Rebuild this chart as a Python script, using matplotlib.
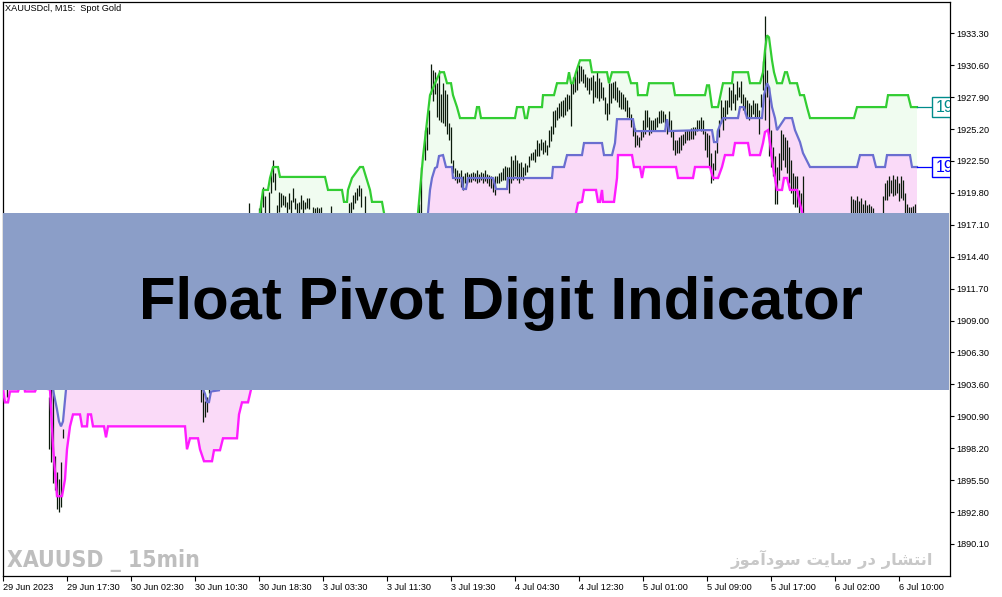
import matplotlib
matplotlib.use('Agg')
import matplotlib.pyplot as plt
from matplotlib.patches import Rectangle

plt.rcParams['font.family'] = ['Liberation Sans', 'DejaVu Sans']

# ---------------- data ----------------
title_text = "XAUUSDcl, M15:  Spot Gold"
banner_text = "Float Pivot Digit Indicator"
watermark_left = "XAUUSD _ 15min"
watermark_right = "انتشار در سایت سودآموز"

x_tick_pos = [0, 32, 64, 96, 128, 160, 192, 224, 256, 288, 320, 352, 384, 416, 448]
x_tick_labels = ["29 Jun 2023", "29 Jun 17:30", "30 Jun 02:30", "30 Jun 10:30",
                 "30 Jun 18:30", "3 Jul 03:30", "3 Jul 11:30", "3 Jul 19:30",
                 "4 Jul 04:30", "4 Jul 12:30", "5 Jul 01:00", "5 Jul 09:00",
                 "5 Jul 17:00", "6 Jul 02:00", "6 Jul 10:00"]
y_ticks = [1890.10, 1892.80, 1895.50, 1898.20, 1900.90, 1903.60, 1906.30, 1909.00,
           1911.70, 1914.40, 1917.10, 1919.80, 1922.50, 1925.20, 1927.90, 1930.60, 1933.30]

# upper level (green)
upper_x = [0, 127, 128.5, 130, 132.5, 133.5, 135, 137.5, 138.5, 161, 162.5, 169.5, 170.5, 172,
           172.5, 174.5, 178.5, 180, 181.5, 183.5, 184.5, 189.5, 190.5, 195, 205, 207.5, 210,
           213.5, 216, 218.5, 220.5, 222, 224, 225, 227, 228.5, 236, 237, 238, 239, 256, 257,
           260, 261, 262, 263, 269.5, 270, 275.5, 277, 282, 283, 284, 285, 286.5, 288.5, 293.5,
           294.5, 302, 303, 304.5, 312.5, 314, 317, 317.5, 322, 323, 335, 336, 351, 352, 353,
           354.5, 357.5, 360, 364.5, 365, 372.5, 373.5, 378.5, 380, 381, 382, 383, 384.5, 385.5,
           387, 389.5, 391, 392, 393.5, 397, 398.5, 400.5, 402, 403.5, 425.5, 427, 441.5, 442.5,
           452.5, 454, 457]
upper_y = [1913.0, 1913.0, 1918.1, 1920.05, 1920.05, 1921.06, 1921.99, 1921.99, 1921.15, 1921.15,
           1920.05, 1920.05, 1919.04, 1919.04, 1920.05, 1921.06, 1921.99, 1921.99, 1921.15,
           1920.05, 1919.04, 1919.04, 1918.1, 1914.0, 1914.0, 1918.1, 1922.85, 1928.07, 1929.08,
           1930.01, 1930.01, 1929.08, 1929.08, 1928.07, 1927.06, 1926.13, 1926.13, 1927.06,
           1927.06, 1926.13, 1926.13, 1927.06, 1927.06, 1926.13, 1926.13, 1927.06, 1927.06,
           1928.07, 1928.07, 1929.08, 1929.08, 1930.01, 1929.08, 1929.08, 1930.01, 1931.02,
           1931.02, 1930.01, 1930.01, 1929.08, 1930.01, 1930.01, 1929.08, 1929.08, 1928.07,
           1928.07, 1929.08, 1929.08, 1928.07, 1928.07, 1928.9, 1928.9, 1927.06, 1927.06,
           1929.08, 1929.08, 1930.01, 1930.01, 1929.08, 1929.08, 1930.01, 1931.87, 1933.13,
           1932.96, 1931.02, 1930.01, 1929.08, 1929.08, 1930.01, 1930.01, 1929.08, 1929.08,
           1928.07, 1928.07, 1927.06, 1926.13, 1926.13, 1927.06, 1927.06, 1928.07, 1928.07,
           1927.06, 1927.06]

# pivot level (blue)
pivot_x = [0, 24, 25, 27, 28, 29, 30, 31.5, 33, 98, 100, 101, 102, 103, 104, 108, 111, 150, 205,
           212.5, 213.5, 214.5, 216, 217, 218, 220, 221.5, 224.5, 225, 229.5, 230, 231.5, 232.5,
           245, 246.5, 252, 252.5, 274.5, 275, 280.5, 282, 289.5, 290.5, 299.5, 300.5, 304.5, 306,
           307, 315, 316, 331, 332, 333, 348.5, 354.5, 355.5, 357, 357.5, 360, 367.5, 368.5,
           370.5, 372, 379.5, 380.5, 382, 383, 384.5, 386, 387, 391, 394.5, 396, 398.5, 400,
           403.5, 427, 428.5, 435, 436.5, 441, 442, 453.5, 454.5, 457]
pivot_y = [1906.0, 1906.0, 1903.17, 1901.48, 1900.47, 1900.05, 1900.47, 1903.17, 1906.0, 1906.0,
           1903.2, 1902.8, 1902.1, 1902.1, 1903.0, 1903.1, 1906.0, 1910.0, 1912.0, 1918.1,
           1920.05, 1921.06, 1921.9, 1921.99, 1922.92, 1923.0, 1921.99, 1921.99, 1921.06,
           1921.06, 1920.13, 1920.13, 1921.06, 1921.06, 1920.13, 1920.13, 1921.06, 1921.06,
           1921.99, 1921.99, 1923.0, 1923.0, 1924.02, 1924.02, 1923.0, 1923.0, 1924.02, 1926.04,
           1926.04, 1925.03, 1925.03, 1926.04, 1925.03, 1925.11, 1925.11, 1924.10, 1924.10,
           1925.11, 1926.13, 1926.13, 1927.06, 1927.06, 1926.13, 1926.13, 1928.07, 1929.08,
           1928.74, 1927.06, 1926.13, 1925.11, 1926.13, 1926.13, 1925.11, 1924.10, 1923.17,
           1921.99, 1921.99, 1923.0, 1923.0, 1921.99, 1921.99, 1923.0, 1923.0, 1921.99, 1921.99]

# lower level (magenta)
lower_x = [0, 1, 2.5, 3.5, 7.5, 8.5, 10.5, 11, 16, 17, 23.5, 25, 27, 29.5, 31, 32, 33.5, 35, 38.5,
           39.5, 42, 42.5, 44, 45, 50.5, 51.5, 52.5, 91, 92, 93.5, 97.5, 98.5, 100.5, 104.5,
           105.5, 108.5, 110, 117, 118, 119.5, 122.5, 124, 128, 285, 286.5, 287.5, 289.5, 290.5,
           296.5, 297.5, 298.5, 299.5, 300, 305.5, 307, 307.5, 314.5, 315.5, 318.5, 319.5, 320.5,
           336.5, 337.5, 345, 346, 353.5, 355, 357.5, 359.5, 361, 365, 366, 372.5, 373.5, 378.5,
           380, 381, 382.5, 383.5, 385, 386, 387, 389.5, 390.5, 392, 393.5, 397, 398, 399.5, 402,
           457]
lower_y = [1903.17, 1902.08, 1902.08, 1903.0, 1903.0, 1903.5, 1903.5, 1903.0, 1903.0, 1903.4,
           1903.17, 1898.36, 1894.14, 1894.14, 1895.58, 1898.11, 1900.05, 1901.06, 1901.06,
           1900.05, 1900.05, 1901.06, 1901.06, 1900.05, 1900.05, 1899.12, 1900.05, 1900.05,
           1898.11, 1899.04, 1899.04, 1898.11, 1897.10, 1897.10, 1898.03, 1898.03, 1899.04,
           1899.04, 1901.06, 1902.08, 1902.08, 1903.17, 1907.0, 1912.0, 1918.1, 1918.95, 1919.04,
           1920.05, 1920.05, 1919.04, 1919.04, 1920.05, 1919.04, 1919.04, 1921.06, 1923.0,
           1923.0, 1921.99, 1921.99, 1921.06, 1921.99, 1921.99, 1921.06, 1921.06, 1921.99,
           1921.99, 1921.06, 1921.06, 1921.99, 1923.0, 1923.0, 1924.02, 1924.02, 1923.0, 1923.0,
           1924.02, 1924.95, 1925.11, 1924.02, 1921.99, 1921.06, 1920.05, 1920.05, 1921.06,
           1921.06, 1920.05, 1920.05, 1919.21, 1918.19, 1916.0, 1916.0]

# price bars (bar index, high, low)
bar_index = [2, 23, 24, 25, 26, 27, 28, 29, 30, 99, 100, 101, 102, 103,
             123, 128, 129, 130, 131, 133, 134, 135, 136, 137, 138, 139, 140, 141, 142, 143, 144,
             145, 146, 147, 148, 149, 150, 151, 152, 153, 155, 156, 157, 158, 159, 164, 173, 174,
             175, 176, 177, 178, 179, 181,
             208, 209] + list(range(211, 401)) + \
            [424, 425, 426, 427, 428, 429, 430, 431, 432, 433, 434, 435] + list(range(440, 457))
bar_high = [1905.0, 1902.5, 1904.0, 1904.0, 1897.5, 1896.2, 1895.6, 1897.0, 1899.8,
            1904.0, 1904.0, 1902.2, 1902.5, 1904.0,
            1918.95, 1918.5, 1919.2, 1920.3, 1919.5, 1919.9, 1921.6, 1922.6, 1921.5, 1918.8,
            1919.9, 1919.8, 1919.6, 1919.5, 1919.0, 1919.8, 1919.2, 1920.2, 1919.4, 1918.95,
            1919.0, 1919.6, 1919.2, 1919.0, 1919.4, 1919.4, 1918.6, 1918.5, 1918.6, 1918.5,
            1918.6, 1918.7, 1918.95, 1919.0, 1919.6, 1919.9, 1920.2, 1920.5, 1920.2, 1919.5,
            1918.9, 1922.0,
            1925.1, 1925.4, 1926.8, 1930.7, 1930.2, 1930.0, 1929.1, 1930.2, 1928.2, 1929.1,
            1928.5, 1928.2, 1925.7, 1925.4, 1922.6, 1921.9, 1921.7, 1921.5, 1921.7, 1921.2,
            1921.5, 1921.6, 1921.4, 1921.5, 1921.6, 1921.5, 1921.7, 1921.4, 1921.6, 1921.5,
            1921.7, 1921.4, 1921.3, 1921.2, 1921.0, 1921.2, 1921.2, 1921.5, 1921.6, 1921.9,
            1922.1, 1922.0, 1922.0, 1922.9, 1922.6, 1923.0, 1922.6, 1922.3, 1922.4, 1922.0,
            1922.3, 1922.2, 1922.9, 1923.2, 1923.3, 1923.5, 1924.3, 1924.0, 1924.4, 1924.1,
            1924.3, 1923.85, 1925.1, 1925.5, 1926.7, 1926.8, 1927.1, 1927.4, 1927.6, 1927.65,
            1927.9, 1928.2, 1928.1, 1929.1, 1929.6, 1929.75, 1930.3, 1930.6, 1930.5, 1930.3,
            1929.9, 1929.6, 1929.5, 1929.6, 1929.75, 1929.3, 1930.0, 1929.5, 1929.2, 1928.8,
            1927.9, 1927.4, 1929.1, 1929.1, 1929.2, 1929.3, 1928.8, 1928.5, 1928.3, 1928.2,
            1927.9, 1927.65, 1927.1, 1926.5, 1925.7, 1925.3, 1924.7, 1924.55, 1925.1, 1926.0,
            1926.8, 1926.8, 1926.2, 1926.0, 1926.0, 1926.1, 1926.2, 1926.7, 1926.8, 1926.7,
            1926.5, 1926.0, 1926.7, 1926.0, 1925.0, 1924.3, 1924.3, 1924.55, 1924.7, 1924.8,
            1925.0, 1925.1, 1925.1, 1925.3, 1925.4, 1925.4, 1926.0, 1926.0, 1926.2, 1926.0,
            1925.0, 1924.9, 1924.7, 1923.15, 1922.3, 1923.4, 1925.1, 1926.0, 1927.65, 1927.1,
            1927.65, 1927.65, 1928.8, 1928.5, 1929.1, 1928.2, 1929.3, 1928.8, 1929.3, 1928.2,
            1927.9, 1927.65, 1927.4, 1927.2, 1927.65, 1927.4, 1927.4, 1926.8, 1928.2, 1931.0,
            1934.8, 1930.2, 1928.8, 1925.1, 1923.7, 1922.9, 1922.0, 1923.15, 1925.1, 1924.8,
            1924.55, 1924.3, 1923.7, 1922.6, 1921.5, 1921.2, 1921.2, 1920.05, 1919.8, 1921.2,
            1919.5, 1919.3, 1919.2, 1919.5, 1919.1, 1919.4, 1918.9, 1919.2, 1918.8, 1918.9,
            1918.7, 1918.5,
            1919.5, 1920.6, 1920.9, 1921.2, 1920.9, 1921.3, 1921.0, 1921.2, 1920.6, 1921.2,
            1920.9, 1919.8, 1918.9, 1918.6, 1918.6, 1918.7, 1918.9]
bar_low = [1902.5, 1898.1, 1897.0, 1895.3, 1894.7, 1893.05, 1892.8, 1893.2, 1899.1,
           1902.1, 1900.4, 1900.8, 1901.3, 1902.9,
           1916.0, 1916.0, 1916.0, 1918.6, 1916.0, 1916.0, 1919.8, 1920.7, 1920.05, 1916.0,
           1918.2, 1918.6, 1918.8, 1918.6, 1916.0, 1918.4, 1916.0, 1919.0, 1918.4, 1916.0,
           1916.0, 1918.4, 1916.0, 1918.4, 1918.5, 1918.4, 1916.0, 1916.0, 1916.0, 1916.0,
           1916.0, 1916.0, 1916.0, 1916.0, 1918.4, 1918.95, 1919.2, 1919.5, 1918.6, 1916.0,
           1916.0, 1916.5,
           1922.6, 1923.4, 1924.8, 1928.2, 1927.6, 1928.2, 1926.2, 1926.0, 1925.8, 1925.7,
           1925.5, 1924.8, 1924.3, 1922.3, 1921.5, 1920.9, 1920.6, 1920.75, 1920.3, 1920.05,
           1920.6, 1920.6, 1920.7, 1920.75, 1920.9, 1920.8, 1920.6, 1920.7, 1920.9, 1920.6,
           1920.8, 1920.6, 1920.4, 1920.2, 1919.9, 1919.6, 1920.6, 1920.6, 1920.8, 1920.9,
           1920.9, 1920.7, 1919.8, 1920.6, 1920.9, 1921.2, 1920.9, 1920.6, 1921.0, 1920.9,
           1921.3, 1921.6, 1922.0, 1922.6, 1922.6, 1922.4, 1922.9, 1922.9, 1923.4, 1923.1,
           1923.3, 1923.0, 1923.7, 1924.2, 1924.8, 1925.4, 1926.0, 1926.1, 1926.3, 1926.2,
           1926.4, 1926.7, 1926.9, 1925.5, 1928.2, 1928.35, 1928.5, 1929.1, 1929.3, 1929.1,
           1928.8, 1928.5, 1928.2, 1928.5, 1927.4, 1927.9, 1927.8, 1927.6, 1927.8, 1927.65,
           1926.5, 1926.0, 1926.5, 1927.4, 1927.8, 1927.65, 1927.5, 1927.1, 1926.9, 1926.9,
           1926.7, 1926.2, 1926.1, 1925.4, 1924.6, 1923.7, 1923.85, 1923.7, 1924.3, 1924.55,
           1924.8, 1925.4, 1924.7, 1924.9, 1925.0, 1925.1, 1925.4, 1925.7, 1925.7, 1925.8,
           1925.5, 1924.8, 1925.1, 1924.5, 1923.4, 1923.0, 1923.15, 1923.15, 1923.4, 1923.85,
           1924.0, 1924.3, 1924.3, 1924.4, 1924.4, 1924.7, 1925.0, 1925.1, 1925.0, 1924.8,
           1923.4, 1922.8, 1922.0, 1920.6, 1920.9, 1921.7, 1923.15, 1924.55, 1925.7, 1925.1,
           1926.0, 1926.5, 1927.1, 1926.8, 1927.4, 1926.8, 1927.65, 1927.9, 1927.4, 1926.8,
           1926.5, 1926.2, 1926.0, 1926.1, 1926.5, 1926.2, 1926.2, 1924.8, 1927.1, 1928.5,
           1926.0, 1927.9, 1922.9, 1922.0, 1921.2, 1918.9, 1918.9, 1920.9, 1921.7, 1922.6,
           1922.0, 1921.5, 1920.6, 1919.8, 1918.9, 1918.6, 1918.6, 1917.0, 1917.0, 1917.0,
           1917.0, 1917.0, 1917.0, 1917.0, 1917.0, 1917.0, 1917.0, 1917.0, 1917.0, 1917.0,
           1917.0, 1917.0,
           1917.0, 1919.2, 1919.2, 1919.5, 1919.8, 1919.5, 1919.6, 1919.8, 1919.1, 1919.35,
           1919.2, 1917.0, 1917.0, 1917.0, 1917.0, 1917.0, 1917.0]

# price tags at the right edge: only the first digits show before the price scale
upper_tag = "19"
pivot_tag = "19"

# ---------------- figure ----------------
W, H = 1003, 597
fig = plt.figure(figsize=(W / 100, H / 100), dpi=100)
fig.patch.set_facecolor('white')
ax = fig.add_axes([3 / W, 21 / H, 947 / W, 574 / H])
ax.set_xlim(0, 473.5)
ax.set_ylim(1887.39, 1935.95)

green = '#32CD32'
blue = '#6A6ED0'
magenta = '#FF1CFF'

ax.fill(upper_x + pivot_x[::-1], upper_y + pivot_y[::-1], color='#F0FCF0', lw=0, zorder=1)
ax.fill(pivot_x + lower_x[::-1], pivot_y + lower_y[::-1], color='#FADAF8', lw=0, zorder=1)

ax.vlines(bar_index, bar_low, bar_high, colors='#0B1A0B', linewidth=0.9, zorder=2)

ax.plot(upper_x, upper_y, color=green, lw=1.6, zorder=3, solid_joinstyle='miter')
ax.plot(pivot_x, pivot_y, color=blue, lw=1.6, zorder=3, solid_joinstyle='miter')
ax.plot(lower_x, lower_y, color=magenta, lw=1.7, zorder=3, solid_joinstyle='miter')

# price tags on the right edge (clipped by the axes)
ax.plot([upper_x[-1], 464.5], [upper_y[-1], upper_y[-1]], color='#008B8B', lw=0.9, zorder=3)
ax.plot([pivot_x[-1], 464.5], [pivot_y[-1], pivot_y[-1]], color='#0000FF', lw=0.9, zorder=3)
ax.add_patch(Rectangle((464.5, upper_y[-1] - 0.85), 20, 1.7, facecolor='white',
                       edgecolor='#008B8B', lw=1.0, zorder=4))
ax.add_patch(Rectangle((464.5, pivot_y[-1] - 0.85), 20, 1.7, facecolor='white',
                       edgecolor='#0000FF', lw=1.0, zorder=4))
ax.text(466.3, upper_y[-1], upper_tag, color='#008B8B', fontsize=11.5, va='center',
        ha='left', zorder=5, clip_on=True)
ax.text(466.3, pivot_y[-1], pivot_tag, color='#0000FF', fontsize=11.5, va='center',
        ha='left', zorder=5, clip_on=True)

# axes styling
for s in ax.spines.values():
    s.set_linewidth(0.9)
    s.set_color('black')
ax.yaxis.tick_right()
ax.set_yticks(y_ticks)
ax.set_yticklabels([f"{v:.2f}" for v in y_ticks])
ax.set_xticks(x_tick_pos)
ax.set_xticklabels(x_tick_labels)
for lbl in ax.get_xticklabels():
    lbl.set_ha('left')
ax.tick_params(axis='y', direction='out', length=3, width=0.8, labelsize=6.6, pad=1.5)
ax.tick_params(axis='x', direction='out', length=3.5, width=0.8, labelsize=6.6, pad=1.2)

fig.text(5 / W, 1 - 8.5 / H, title_text, fontsize=6.6, ha='left', va='center')

# banner
fig.add_artist(Rectangle((3 / W, 1 - 390 / H), 946.5 / W, 177 / H, transform=fig.transFigure,
                         facecolor='#8B9EC8', edgecolor='none', zorder=10))
fig.text(501 / W, 1 - 319 / H, banner_text, fontsize=43, fontweight='bold', ha='center',
         va='baseline', color='black', zorder=11)

# watermarks
fig.text(7 / W, 1 - 567 / H, watermark_left, fontsize=16.5, fontweight='bold', color='#BEBEBE',
         ha='left', va='baseline', family=['DejaVu Sans'], fontstretch='condensed', zorder=11)

# visual-order presentation forms of the Persian text (matplotlib has no Arabic shaping)
shaped = ("\uFEAF\uFEEE\uFEE3\uFE81\uFEA9\uFEEE\uFEB3" + " " +
          "\uFE96\uFEF3\uFE8E\uFEB3" + " " +
          "\uFEAD\uFEA9" + " " +
          "\uFEAD\uFE8E\uFEB8\uFE98\uFEE7\uFE8D")
fig.text(933 / W, 1 - 565 / H, shaped, fontsize=11.8, fontweight='bold', color='#C8C8C8',
         ha='right', va='baseline', family=['DejaVu Sans'], zorder=11)

fig.savefig('out.png', dpi=100)
